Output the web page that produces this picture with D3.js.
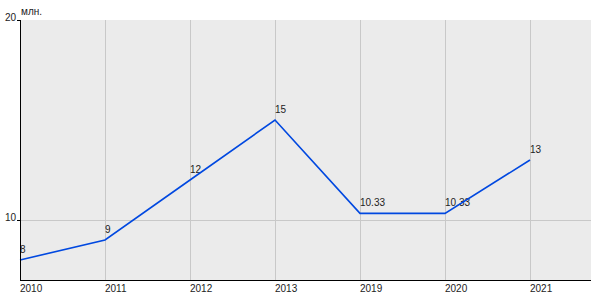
<!DOCTYPE html>
<html lang="ru">
	<head>
		<meta charset="UTF-8" />
		<title>Chart</title>
		<style>
			body { margin: 0; background: #fff; }
			text { font-family: Arial, "Liberation Sans", sans-serif; font-size: 10px; fill: #222; }
		</style>
	</head>
	<body>
		<svg id="svg" width="600" height="300"></svg>
		<script src="https://d3js.org/d3.v7.min.js"></script>
		<script>
			const years = ['2010', '2011', '2012', '2013', '2019', '2020', '2021'];
			const values = [8, 9, 12, 15, 10.33, 10.33, 13];
			const valueLabels = ['8', '9', '12', '15', '10.33', '10.33', '13'];
			const yTicks = [10, 20];
			const unit = 'млн.';

			const mLeft = 20, mRight = 591, mTop = 20, mBottom = 280;

			// one category every 85px
			const x = d3.scalePoint()
				.domain(years)
				.range([mLeft, mLeft + 85 * (years.length - 1)]);

			const y = d3.scaleLinear().domain([7, 20]).range([mBottom, mTop]);

			const svg = d3.select('#svg');

			svg.append('rect')
				.attr('x', mLeft)
				.attr('y', mTop)
				.attr('width', mRight - mLeft)
				.attr('height', mBottom - mTop)
				.attr('fill', '#ebebeb');

			// vertical grid
			svg.append('g')
				.selectAll('line')
				.data(years.slice(1))
				.enter()
				.append('line')
				.attr('x1', (d) => x(d) + 0.5)
				.attr('x2', (d) => x(d) + 0.5)
				.attr('y1', mTop)
				.attr('y2', mBottom)
				.attr('stroke', '#c8c8c8');

			// horizontal grid
			svg.append('g')
				.selectAll('line')
				.data(yTicks.filter((d) => d < 20))
				.enter()
				.append('line')
				.attr('x1', mLeft)
				.attr('x2', mRight)
				.attr('y1', (d) => y(d) + 0.5)
				.attr('y2', (d) => y(d) + 0.5)
				.attr('stroke', '#c8c8c8');

			// value labels (under the line)
			svg.append('g')
				.selectAll('text')
				.data(values)
				.enter()
				.append('text')
				.attr('x', (d, i) => x(years[i]))
				.attr('y', (d) => y(d) - 7)
				.text((d, i) => valueLabels[i]);

			const line = d3.line()
				.x((d, i) => x(years[i]))
				.y((d) => y(d));

			svg.append('path')
				.datum(values)
				.attr('d', line)
				.attr('fill', 'none')
				.attr('stroke', '#0048e0')
				.attr('stroke-width', 1.6);

			// axes
			svg.append('line')
				.attr('x1', mLeft + 0.5).attr('x2', mLeft + 0.5)
				.attr('y1', mTop).attr('y2', mBottom)
				.attr('stroke', '#000');
			svg.append('line')
				.attr('x1', mLeft).attr('x2', mRight)
				.attr('y1', mBottom + 0.5).attr('y2', mBottom + 0.5)
				.attr('stroke', '#000');

			// y ticks
			const yt = svg.append('g')
				.selectAll('g')
				.data(yTicks)
				.enter()
				.append('g');
			yt.append('line')
				.attr('x1', mLeft - 3).attr('x2', mLeft)
				.attr('y1', (d) => y(d) + 0.5)
				.attr('y2', (d) => y(d) + 0.5)
				.attr('stroke', '#000');
			yt.append('text')
				.attr('x', mLeft - 4)
				.attr('y', (d) => y(d) + 1)
				.attr('text-anchor', 'end')
				.text((d) => d);

			svg.append('text')
				.attr('x', mLeft + 1)
				.attr('y', mTop - 5)
				.text(unit);

			// x tick labels
			svg.append('g')
				.selectAll('text')
				.data(years)
				.enter()
				.append('text')
				.attr('x', (d) => x(d))
				.attr('y', mBottom + 12)
				.text((d) => d);
		</script>
	</body>
</html>
